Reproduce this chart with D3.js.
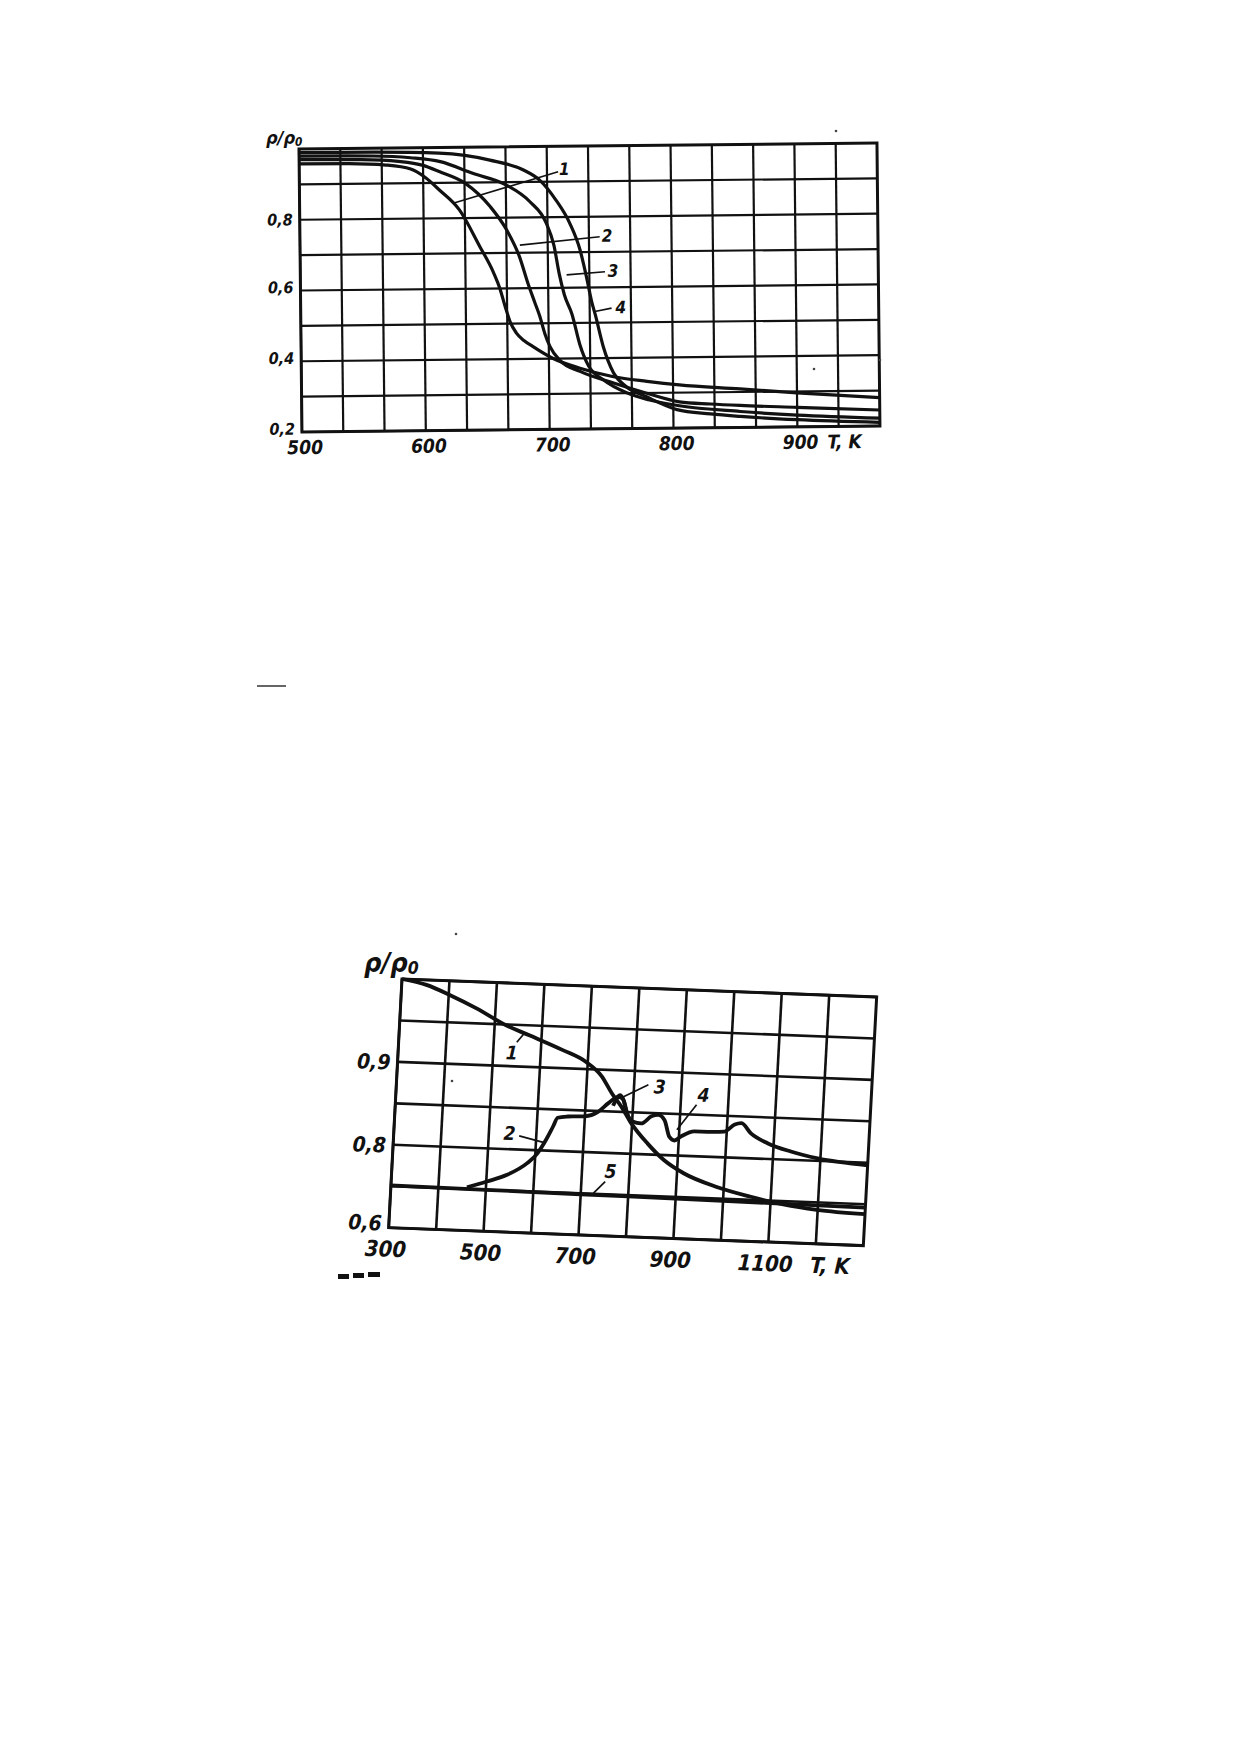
<!DOCTYPE html>
<html lang="ru">
<head>
<meta charset="utf-8">
<title>Relative resistivity vs temperature</title>
<script src="https://d3js.org/d3.v7.min.js"></script>
<style>
  body { margin: 0; background: #fff; }
  svg { display: block; }
  text { font-family: "DejaVu Sans Condensed", "DejaVu Sans", sans-serif; font-style: italic; font-weight: bold; fill: #111; }
</style>
</head>
<body>
<script>
// ---------- upper figure ----------
var topTicksT = [500, 600, 700, 800, 900];
var topTicksR = [0.2, 0.4, 0.6, 0.8];
var topLabelsR = ["0,2", "0,4", "0,6", "0,8"];

var top1 = [[500,0.958],[540,0.957],[570,0.952],[590,0.94],[602,0.915],[613,0.88],[629,0.823],[645,0.72],[656,0.645],[661,0.6],[665,0.55],[669,0.505],[674,0.473],[680,0.452],[687,0.435],[703,0.401],[725,0.372],[752,0.347],[779,0.333],[805,0.322],[854,0.309],[900,0.296],[966.7,0.28]];
var top2 = [[500,0.97],[550,0.968],[580,0.962],[600,0.95],[613,0.932],[634,0.898],[654,0.831],[667,0.765],[677,0.69],[684,0.61],[689,0.56],[693,0.52],[697,0.47],[701,0.434],[709,0.394],[725,0.363],[752,0.329],[778,0.30],[805,0.274],[830,0.267],[854,0.262],[900,0.255],[966.7,0.245]];
var top3 = [[500,0.98],[560,0.978],[590,0.972],[614,0.96],[640,0.926],[667,0.892],[686,0.844],[699,0.783],[705,0.72],[709,0.64],[713,0.58],[719,0.525],[725,0.44],[732,0.378],[744,0.338],[762,0.302],[780,0.281],[805,0.263],[854,0.245],[900,0.233],[966.7,0.222]];
var top4 = [[500,0.99],[560,0.989],[613,0.984],[654,0.963],[681,0.934],[694,0.905],[707,0.848],[718,0.782],[726,0.707],[731,0.63],[735,0.56],[738,0.52],[744,0.432],[752,0.358],[762,0.319],[778,0.29],[803,0.252],[830,0.239],[854,0.231],[900,0.22],[966.7,0.21]];

// curve number, text position, leader line from -> to
var topNotes = [
  {t: "1", at: [714, 0.919], from: [709, 0.928], to: [624, 0.842]},
  {t: "2", at: [748, 0.729], from: [742, 0.743], to: [677.5, 0.722]},
  {t: "3", at: [752.4, 0.63], from: [746, 0.644], to: [715, 0.636]},
  {t: "4", at: [758.5, 0.526], from: [751, 0.541], to: [737.5, 0.532]}
];

// ---------- lower figure ----------
var botTicksT = [300, 500, 700, 900, 1100];
var botTicksR = [0.7, 0.8, 0.9];
var botLabelsR = ["0,6", "0,8", "0,9"];

var bot1 = [[300,1.0],[352,0.994],[402,0.983],[460,0.968],[524,0.949],[574,0.938],[645,0.922],[695,0.909],[731,0.892],[754,0.872],[776,0.856],[798,0.837],[835,0.813],[871,0.794],[914,0.779],[985,0.764],[1056,0.754],[1127,0.746],[1198,0.741],[1300,0.738]];
var bot2 = [[460,0.752],[501,0.76],[543,0.769],[584,0.784],[604,0.796],[621,0.813],[634,0.829],[643,0.84],[664,0.842],[700,0.843],[727,0.849],[748,0.86],[768,0.868],[778,0.866],[786,0.852],[796,0.839]];
var bot3 = [[758,0.857],[772,0.870],[781,0.862],[790,0.846],[801,0.839],[819,0.837],[840,0.846],[854,0.848],[868,0.842],[880,0.822],[891,0.818],[904,0.823],[932,0.83],[960,0.83],[995,0.831],[1016,0.84],[1030,0.842],[1051,0.83],[1087,0.819],[1137,0.81],[1194,0.803],[1300,0.797]];
var bot5 = [[300,0.751],[500,0.750],[700,0.749],[900,0.748],[1100,0.747],[1300,0.746]];

var botNotes = [
  {t: "1", at: [539, 0.908], from: [548.5, 0.929], to: [563, 0.940]},
  {t: "2", at: [543.6, 0.811], from: [564, 0.8165], to: [617.5, 0.8095]},
  {t: "3", at: [854, 0.874], from: [830, 0.884], to: [771.6, 0.866]},
  {t: "4", at: [947, 0.866], from: [933.5, 0.862], to: [895, 0.831]},
  {t: "5", at: [760, 0.770], from: [750, 0.7654], to: [726.7, 0.751]}
];

var svg = d3.select("body").append("svg")
  .attr("width", 1239)
  .attr("height", 1752);

svg.append("rect").attr("width", 1239).attr("height", 1752).attr("fill", "#fff");

function panel(o) {
  var g = svg.append("g")
    .attr("transform", "translate(" + o.left + "," + o.top + ") rotate(" + o.tilt + ") skewX(" + o.skew + ")");

  var x = d3.scaleLinear().domain(o.xDomain).range([0, o.w]);
  var y = d3.scaleLinear().domain(o.yDomain).range([o.h, 0]);

  // grid
  g.selectAll(".gx").data(o.gridX).enter().append("line")
    .attr("x1", d => x(d)).attr("x2", d => x(d))
    .attr("y1", 0).attr("y2", o.h)
    .attr("stroke", "#111").attr("stroke-width", o.gridW);
  g.selectAll(".gy").data(o.gridY).enter().append("line")
    .attr("x1", 0).attr("x2", o.w)
    .attr("y1", d => y(d)).attr("y2", d => y(d))
    .attr("stroke", "#111").attr("stroke-width", o.gridW);

  g.append("rect")
    .attr("width", o.w).attr("height", o.h)
    .attr("fill", "none").attr("stroke", "#111").attr("stroke-width", 3);

  // curves
  var line = d3.line()
    .x(d => x(d[0])).y(d => y(d[1]))
    .curve(d3.curveMonotoneX);
  o.curves.forEach(function(c) {
    g.append("path").attr("d", line(c))
      .attr("fill", "none").attr("stroke", "#111")
      .attr("stroke-width", o.curveW).attr("stroke-linejoin", "round");
  });

  // curve numbers
  o.notes.forEach(function(n) {
    g.append("line")
      .attr("x1", x(n.from[0])).attr("y1", y(n.from[1]))
      .attr("x2", x(n.to[0])).attr("y2", y(n.to[1]))
      .attr("stroke", "#111").attr("stroke-width", 1.7);
    g.append("text")
      .attr("x", x(n.at[0])).attr("y", y(n.at[1]))
      .attr("text-anchor", "middle")
      .attr("font-size", o.noteSize)
      .text(n.t);
  });

  // tick labels
  g.selectAll(".tx").data(o.ticksX).enter().append("text")
    .attr("x", d => x(d) + o.tickDx)
    .attr("y", o.h + o.tickBase)
    .attr("text-anchor", "middle")
    .attr("font-size", o.tickSizeX)
    .text(d => d);
  g.append("text")
    .attr("x", x(o.unitAt)).attr("y", o.h + o.tickBase)
    .attr("text-anchor", "middle")
    .attr("font-size", o.tickSizeX)
    .text("T, K");
  g.selectAll(".ty").data(o.ticksY).enter().append("text")
    .attr("x", -7)
    .attr("y", (d, i) => y(d) + o.tickDy[i])
    .attr("text-anchor", "end")
    .attr("dominant-baseline", "central")
    .attr("font-size", o.tickSizeY)
    .text((d, i) => o.labelsY[i]);

  // axis title
  var tt = svg.append("text")
    .attr("x", o.titleAt[0]).attr("y", o.titleAt[1])
    .attr("font-size", o.titleSize)
    .attr("font-weight", "normal");
  tt.append("tspan").text("ρ/ρ");
  tt.append("tspan").attr("font-size", o.titleSize * 0.65).attr("dy", 2).text("0");
}

panel({
  left: 299, top: 149, w: 578, h: 283, tilt: -0.6, skew: 0,
  xDomain: [500, 966.67], yDomain: [0.2, 1.0],
  gridX: d3.range(500, 966, 100 / 3), gridY: d3.range(0.2, 1.0, 0.1),
  gridW: 2.2, curveW: 3.2,
  curves: [top1, top2, top3, top4], notes: topNotes, noteSize: 17,
  ticksX: topTicksT, tickDx: 3, tickBase: 22, tickSizeX: 19, unitAt: 938,
  ticksY: topTicksR, labelsY: topLabelsR, tickDy: [-3, -3, -3, 0], tickSizeY: 16,
  titleAt: [266, 144], titleSize: 18
});

panel({
  left: 402, top: 979, w: 475, h: 249, tilt: 2.17, skew: -0.9,
  xDomain: [300, 1300], yDomain: [0.7, 1.0],
  gridX: d3.range(300, 1300, 100), gridY: d3.range(0.7, 1.0, 0.05),
  gridW: 2.6, curveW: 3.8,
  curves: [bot1, bot2, bot3, bot5], notes: botNotes, noteSize: 19,
  ticksX: botTicksT, tickDx: -2, tickBase: 29, tickSizeX: 22, unitAt: 1232,
  ticksY: botTicksR, labelsY: botLabelsR, tickDy: [-4, 1, 1], tickSizeY: 21,
  titleAt: [364, 972], titleSize: 27
});

// scan marks
svg.append("line").attr("x1", 257).attr("x2", 286).attr("y1", 686).attr("y2", 686)
  .attr("stroke", "#333").attr("stroke-width", 1.5);
[[338, 1274, 11], [353, 1273, 11], [368, 1272, 12]].forEach(function(d) {
  svg.append("rect").attr("x", d[0]).attr("y", d[1]).attr("width", d[2]).attr("height", 5).attr("fill", "#111");
});
[[836, 131], [814, 369], [880, 360], [452, 1081], [456, 934]].forEach(function(d) {
  svg.append("circle").attr("cx", d[0]).attr("cy", d[1]).attr("r", 1.3).attr("fill", "#444");
});
</script>
</body>
</html>
